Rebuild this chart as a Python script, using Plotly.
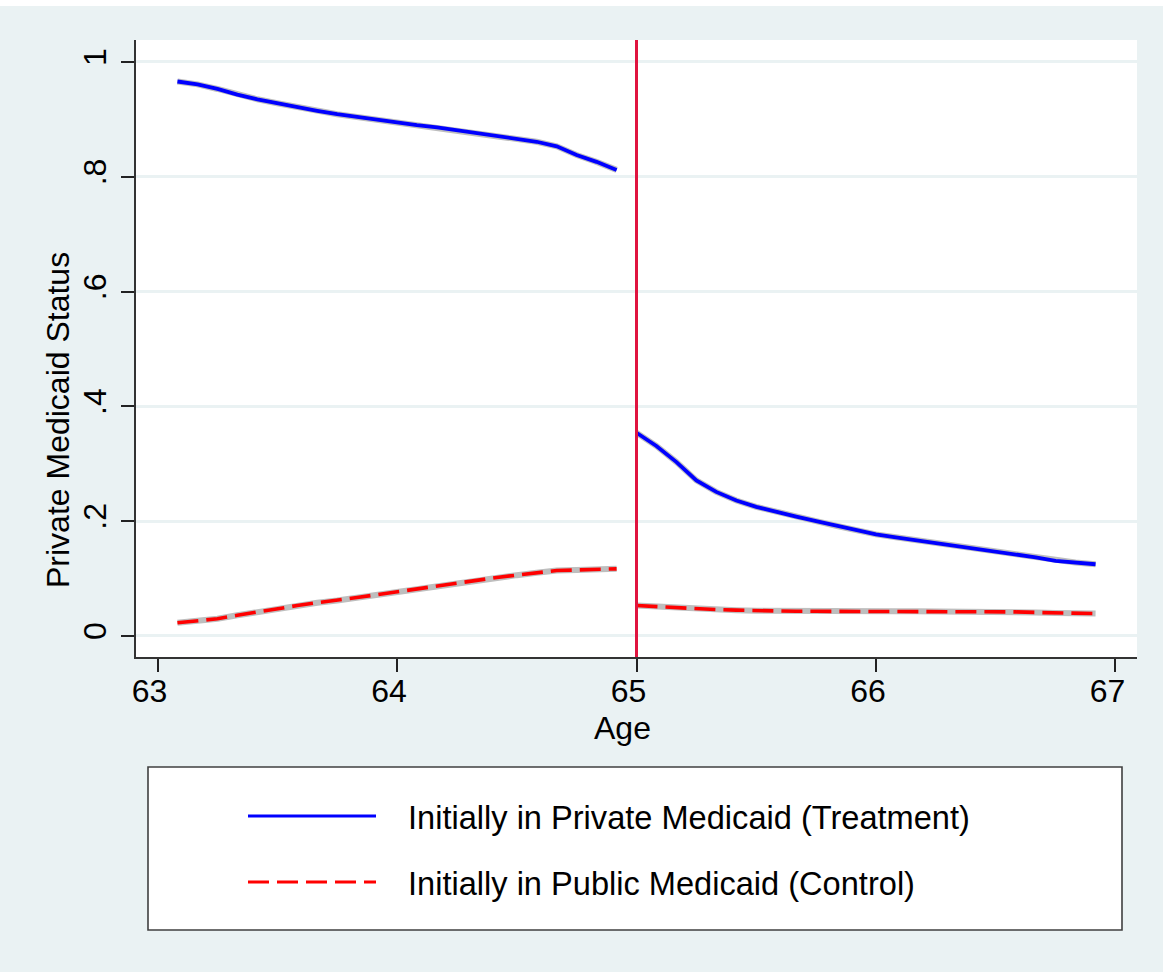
import plotly.graph_objects as go

# ---------------- data ----------------
age_pre = [63.083, 63.167, 63.25, 63.333, 63.417, 63.5, 63.583, 63.667, 63.75, 63.833,
           63.917, 64.0, 64.083, 64.167, 64.25, 64.333, 64.417, 64.5, 64.583, 64.667,
           64.75, 64.833, 64.917]
age_post = [65.0, 65.083, 65.167, 65.25, 65.333, 65.417, 65.5, 65.583, 65.667, 65.75,
            65.833, 65.917, 66.0, 66.083, 66.167, 66.25, 66.333, 66.417, 66.5, 66.583,
            66.667, 66.75, 66.833, 66.917]

treat_pre = [0.966, 0.961, 0.953, 0.943, 0.935, 0.928, 0.921, 0.915, 0.909, 0.904,
             0.899, 0.895, 0.890, 0.886, 0.881, 0.876, 0.871, 0.866, 0.861, 0.853,
             0.838, 0.826, 0.812]
treat_post = [0.354, 0.331, 0.303, 0.271, 0.251, 0.236, 0.225, 0.216, 0.208, 0.200,
              0.192, 0.184, 0.177, 0.172, 0.167, 0.162, 0.158, 0.153, 0.148, 0.142,
              0.137, 0.131, 0.128, 0.125]

control_pre = [0.023, 0.026, 0.030, 0.036, 0.042, 0.048, 0.053, 0.058, 0.062, 0.067,
               0.072, 0.077, 0.082, 0.088, 0.093, 0.098, 0.102, 0.106, 0.110, 0.114,
               0.115, 0.116, 0.117]
control_post = [0.053, 0.051, 0.049, 0.047, 0.046, 0.045, 0.044, 0.0435, 0.043, 0.043,
                0.043, 0.043, 0.043, 0.043, 0.043, 0.043, 0.042, 0.042, 0.042, 0.042,
                0.041, 0.040, 0.040, 0.039]

cutoff_age = 65
x_ticks = [63, 64, 65, 66, 67]
y_ticks = [0, 0.2, 0.4, 0.6, 0.8, 1.0]
y_tick_labels = ["0", ".2", ".4", ".6", ".8", "1"]

legend_labels = ["Initially in Private Medicaid (Treatment)",
                 "Initially in Public Medicaid (Control)"]
x_title = "Age"
y_title = "Private Medicaid Status"

# ---------------- styling ----------------
W, H = 1163, 972
ML, MR, MT, MB = 136, 26, 40, 315
PW, PH = W - ML - MR, H - MT - MB
BG = "#EAF2F3"
FONT = "Liberation Sans, Arial, sans-serif"
FS = 32
BLUE = "#0000FF"
RED = "#FF0000"
BAND = "#BEBEBE"
DASH = "21px,8px"


def px(x):
    return (x - ML) / PW


def py(y):
    return (H - MB - y) / PH


fig = go.Figure()

# gray bands underneath
for xs, ys in [(age_pre, treat_pre), (age_post, treat_post),
               (age_pre, control_pre), (age_post, control_post)]:
    fig.add_trace(go.Scatter(x=xs, y=ys, mode="lines",
                             line=dict(color=BAND, width=6),
                             hoverinfo="skip", showlegend=False))

# treatment
for xs, ys in [(age_pre, treat_pre), (age_post, treat_post)]:
    fig.add_trace(go.Scatter(x=xs, y=ys, mode="lines",
                             line=dict(color=BLUE, width=3.8),
                             name=legend_labels[0], showlegend=False))
# control
for xs, ys in [(age_pre, control_pre), (age_post, control_post)]:
    fig.add_trace(go.Scatter(x=xs, y=ys, mode="lines",
                             line=dict(color=RED, width=3.6, dash=DASH),
                             name=legend_labels[1], showlegend=False))

shapes = []
# cutoff line
shapes.append(dict(type="line", xref="x", yref="paper", x0=cutoff_age, x1=cutoff_age,
                   y0=0, y1=1, line=dict(color="#E0143F", width=3), layer="above"))
# white strip at top of page
shapes.append(dict(type="rect", xref="paper", yref="paper", x0=px(0), x1=px(W),
                   y0=py(6), y1=py(0), fillcolor="white", line=dict(width=0),
                   layer="below"))
# legend box
shapes.append(dict(type="rect", xref="paper", yref="paper", x0=px(148), x1=px(1122),
                   y0=py(930), y1=py(767), fillcolor="white",
                   line=dict(color="#404040", width=1.6), layer="below"))
# legend samples
shapes.append(dict(type="line", xref="paper", yref="paper", x0=px(248), x1=px(376),
                   y0=py(816), y1=py(816), line=dict(color=BLUE, width=3.2)))
shapes.append(dict(type="line", xref="paper", yref="paper", x0=px(248), x1=px(376),
                   y0=py(882), y1=py(882), line=dict(color=RED, width=3.2, dash=DASH)))

annotations = [
    dict(text=legend_labels[0], xref="paper", yref="paper", x=px(406), y=py(817),
         xanchor="left", yanchor="middle", showarrow=False,
         font=dict(family=FONT, size=32.6, color="black")),
    dict(text=legend_labels[1], xref="paper", yref="paper", x=px(406), y=py(883),
         xanchor="left", yanchor="middle", showarrow=False,
         font=dict(family=FONT, size=32.6, color="black")),
    dict(text=x_title, xref="paper", yref="paper", x=px(622), y=py(728),
         xanchor="center", yanchor="middle", showarrow=False,
         font=dict(family=FONT, size=FS, color="black")),
    dict(text=y_title, xref="paper", yref="paper", x=px(58), y=py(420),
         xanchor="center", yanchor="middle", showarrow=False, textangle=-90,
         font=dict(family=FONT, size=FS, color="black")),
]

fig.update_layout(
    width=W, height=H,
    margin=dict(l=ML, r=MR, t=MT, b=MB, pad=0),
    paper_bgcolor=BG, plot_bgcolor="white",
    showlegend=False,
    shapes=shapes, annotations=annotations,
    font=dict(family=FONT, size=FS, color="black"),
    xaxis=dict(range=[62.91, 67.09], tickmode="array", tickvals=x_ticks,
               ticks="outside", ticklen=13, tickwidth=1.5, tickcolor="#222",
               showline=True, linecolor="#333", linewidth=2, mirror=False,
               showgrid=False, zeroline=False, ticklabelshift=-8,
               ticklabelstandoff=-8,
               tickfont=dict(family=FONT, size=FS, color="black")),
    yaxis=dict(range=[-0.0366, 1.0383], tickmode="array", tickvals=y_ticks,
               ticktext=y_tick_labels, tickangle=-90,
               ticks="outside", ticklen=13, tickwidth=1.5, tickcolor="#222",
               showline=True, linecolor="#333", linewidth=2, mirror=False,
               showgrid=True, gridcolor=BG, gridwidth=2.5, zeroline=False,
               ticklabelstandoff=2,
               tickfont=dict(family=FONT, size=FS, color="black")),
)

fig.write_html("out.html")
